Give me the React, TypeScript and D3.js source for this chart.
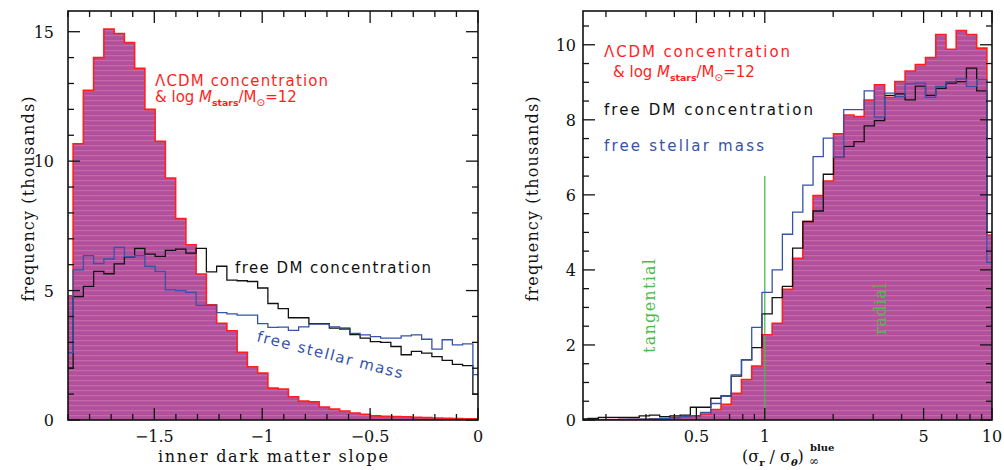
import * as d3 from 'd3';

// ---- left panel: inner dark matter slope, 41 bins of 0.0475 centred from -1.9 ----
const slopeBinStart = -1.9;
const slopeBinWidth = 0.0475;
const slopeLcdm = [4.8, 10.67, 12.74, 14.0, 15.1, 14.93, 14.58, 13.59, 12.0, 10.77, 9.35, 7.78, 6.77, 5.64, 4.45, 3.74, 3.45, 2.62, 2.06, 1.81, 1.23, 1.2, 0.9, 0.73, 0.7, 0.5, 0.42, 0.35, 0.27, 0.22, 0.16, 0.14, 0.13, 0.12, 0.1, 0.09, 0.08, 0.07, 0.06, 0.05, 0.05];
const slopeFreeDM = [2.0, 4.77, 5.16, 5.74, 5.65, 6.03, 6.3, 6.63, 6.41, 6.32, 6.55, 6.6, 6.45, 6.63, 5.72, 5.94, 5.4, 5.38, 5.35, 5.1, 4.5, 4.3, 3.95, 3.95, 3.72, 3.72, 3.55, 3.55, 3.3, 3.16, 3.03, 3.0, 2.84, 2.52, 2.65, 2.58, 2.45, 2.3, 2.15, 2.1, 1.0];
const slopeFreeStars = [2.6, 5.8, 6.35, 6.04, 6.22, 6.67, 6.32, 6.35, 5.94, 5.74, 5.03, 5.0, 4.93, 4.43, 4.43, 4.15, 4.1, 4.05, 4.05, 3.72, 3.58, 3.59, 3.46, 3.6, 3.7, 3.7, 3.6, 3.5, 3.35, 3.29, 3.22, 3.16, 3.16, 3.25, 3.29, 3.12, 2.74, 3.1, 2.9, 2.94, 1.75];
const slopeTickLabels = ['−1.5', '−1', '−0.5', '0'];
const slopeTickValues = [-1.5, -1, -0.5, 0];
const slopeFreqLabels = ['0', '5', '10', '15'];

// ---- right panel: log10 (sigma_r/sigma_theta), 41 bins of 0.045 dex centred from -0.8 ----
const anisoBinStart = -0.8;
const anisoBinWidth = 0.045;
const anisoLcdm = [0.01, 0.01, 0.01, 0.01, 0.01, 0.02, 0.02, 0.03, 0.04, 0.07, 0.09, 0.11, 0.16, 0.28, 0.42, 0.71, 1.08, 1.44, 2.27, 2.58, 3.48, 4.31, 5.29, 5.98, 6.37, 7.63, 8.13, 8.09, 8.53, 8.93, 8.6, 9.02, 9.3, 9.47, 9.66, 10.27, 9.88, 10.38, 10.27, 9.91, 4.93];
const anisoFreeDM = [0.03, 0.04, 0.07, 0.07, 0.07, 0.07, 0.11, 0.13, 0.09, 0.11, 0.13, 0.34, 0.34, 0.58, 0.64, 1.17, 1.6, 1.93, 2.83, 3.26, 3.56, 4.58, 5.29, 5.57, 6.55, 7.0, 7.29, 7.42, 7.84, 7.98, 8.65, 8.69, 8.53, 8.9, 8.65, 8.84, 8.98, 9.02, 9.38, 8.77, 5.0];
const anisoFreeStars = [0.01, 0.01, 0.01, 0.01, 0.02, 0.02, 0.02, 0.03, 0.04, 0.06, 0.09, 0.11, 0.2, 0.44, 0.64, 1.2, 1.6, 2.47, 3.4, 4.0, 4.95, 5.54, 6.26, 7.02, 7.51, 7.0, 8.27, 8.27, 8.77, 8.07, 8.71, 8.62, 8.96, 8.98, 8.6, 8.89, 9.02, 9.09, 8.89, 9.07, 4.2];
const anisoTickLabels = ['0.5', '1', '5', '10'];
const anisoTickValues = [0.5, 1, 5, 10];
const anisoFreqLabels = ['0', '2', '4', '6', '8', '10'];
const isotropicLine = { x: 1, top: 6.5 };

const RED = '#ff1f1f';
const BLACK = '#111';
const BLUE = '#3553a8';
const GREEN = '#4cbb4c';
const serif = "'DejaVu Serif', serif";
const sans = "'DejaVu Sans', sans-serif";

type Pt = [number, number];

// outline of a step histogram, closed down to zero at both ends
function stepPts(values: number[], lo: (i: number) => number, hi: (i: number) => number): Pt[] {
  const pts: Pt[] = [[lo(0), 0]];
  values.forEach((v, i) => {
    pts.push([lo(i), v], [hi(i), v]);
  });
  pts.push([hi(values.length - 1), 0]);
  return pts;
}

const Ticks = ({ x, y, xMinor, xMajor, yMinor, yMajor }: any) => {
  const [x0, x1] = x.range();
  const [y0, y1] = y.range(); // y0 bottom, y1 top
  const lines: any[] = [];
  const big = 12, small = 6;
  xMinor.forEach((v: number, i: number) => {
    const len = xMajor.includes(v) ? big : small;
    const px = x(v);
    lines.push(<line key={'xb' + i} x1={px} x2={px} y1={y0} y2={y0 - len} />);
    lines.push(<line key={'xt' + i} x1={px} x2={px} y1={y1} y2={y1 + len} />);
  });
  yMinor.forEach((v: number, i: number) => {
    const len = yMajor.includes(v) ? big : small;
    const py = y(v);
    lines.push(<line key={'yl' + i} x1={x0} x2={x0 + len} y1={py} y2={py} />);
    lines.push(<line key={'yr' + i} x1={x1} x2={x1 - len} y1={py} y2={py} />);
  });
  return (
    <g stroke="#111" strokeWidth={1.3}>
      {lines}
      <rect x={x0} y={y1} width={x1 - x0} height={y0 - y1} fill="none" strokeWidth={1.6} />
    </g>
  );
};

const Hist = ({ id, x, y, lcdm, freeDM, freeStars, lo, hi, children }: any) => {
  const line = d3.line<Pt>().x(d => x(d[0])).y(d => y(d[1]));
  const area = d3.area<Pt>().x(d => x(d[0])).y0(y(0)).y1(d => y(d[1]));
  const [x0, x1] = x.range();
  const [yb, yt] = y.range();
  return (
    <g>
      <clipPath id={id}>
        <rect x={x0} y={yt} width={x1 - x0} height={yb - yt} />
      </clipPath>
      <g clipPath={`url(#${id})`}>
        <path d={area(stepPts(lcdm, lo, hi)) || ''} fill="url(#stripes)" />
        {children}
        <path d={line(stepPts(lcdm, lo, hi)) || ''} fill="none" stroke={RED} strokeWidth={1.6} />
        <path d={line(stepPts(freeDM, lo, hi)) || ''} fill="none" stroke={BLACK} strokeWidth={1.3} />
        <path d={line(stepPts(freeStars, lo, hi)) || ''} fill="none" stroke={BLUE} strokeWidth={1.3} />
      </g>
    </g>
  );
};

const MassLine = ({ x, y, size }: any) => (
  <text x={x} y={y} fill={RED} fontFamily={sans} fontSize={size}>
    {'& log '}
    <tspan fontStyle="italic">M</tspan>
    <tspan dy={4} fontSize={size * 0.62} fontWeight="bold">stars</tspan>
    <tspan dy={-4}>/M</tspan>
    <tspan dy={4} fontSize={size * 0.7}>⊙</tspan>
    <tspan dy={-4}>=12</tspan>
  </text>
);

export default function App() {
  // left panel scales
  const xL = d3.scaleLinear().domain([-1.9, 0]).range([68, 478]);
  const yL = d3.scaleLinear().domain([0, 15.8]).range([420, 11]);
  // right panel scales
  const xR = d3.scaleLog().domain([Math.pow(10, -0.8), 10]).range([583, 992]);
  const yR = d3.scaleLinear().domain([0, 10.9]).range([420, 11]);

  const loL = (i: number) => slopeBinStart + (i - 0.5) * slopeBinWidth;
  const hiL = (i: number) => slopeBinStart + (i + 0.5) * slopeBinWidth;
  const loR = (i: number) => Math.pow(10, anisoBinStart + (i - 0.5) * anisoBinWidth);
  const hiR = (i: number) => Math.pow(10, anisoBinStart + (i + 0.5) * anisoBinWidth);

  const xLMinor = d3.range(-19, 1).map(i => i / 10);
  const yLMinor = d3.range(0, 16);
  const xRMinor = [0.2, 0.3, 0.4, 0.5, 0.6, 0.7, 0.8, 0.9, 1, 2, 3, 4, 5, 6, 7, 8, 9, 10];
  const yRMinor = d3.range(0, 22).map(i => i / 2);

  return (
    <svg width={1004} height={470} style={{ position: 'absolute', left: 0, top: 0, background: '#fff' }}>
      <defs>
        <pattern id="stripes" width={8} height={5} patternUnits="userSpaceOnUse">
          <rect width={8} height={5} fill="#b3509b" />
          <rect width={8} height={1.2} fill="#c46aaa" />
        </pattern>
      </defs>

      {/* ---------- left panel ---------- */}
      <Hist id="clipL" x={xL} y={yL} lcdm={slopeLcdm} freeDM={slopeFreeDM} freeStars={slopeFreeStars} lo={loL} hi={hiL} />
      <Ticks x={xL} y={yL} xMinor={xLMinor} xMajor={[-1.5, -1, -0.5, 0]} yMinor={yLMinor} yMajor={[0, 5, 10, 15]} />
      <g fontFamily={serif} fontSize={16} fill="#111">
        {slopeTickValues.map((v, i) => (
          <text key={i} x={xL(v)} y={442} textAnchor="middle">{slopeTickLabels[i]}</text>
        ))}
        {slopeFreqLabels.map(s => (
          <text key={s} x={54} y={yL(+s) + 6} textAnchor="end">{s}</text>
        ))}
        <text x={273} y={462} textAnchor="middle" textLength={230} lengthAdjust="spacing">inner dark matter slope</text>
        <text transform="translate(34,199) rotate(-90)" textAnchor="middle" textLength={205} lengthAdjust="spacing">frequency (thousands)</text>
      </g>
      <text x={155} y={86} fill={RED} fontFamily={sans} fontSize={15} textLength={173} lengthAdjust="spacing">ΛCDM concentration</text>
      <MassLine x={155} y={102} size={15} />
      <text x={235} y={273} fill={BLACK} fontFamily={sans} fontSize={15} textLength={196} lengthAdjust="spacing">free DM concentration</text>
      <text transform="translate(256,341) rotate(14.5)" fill={BLUE} fontFamily={sans} fontSize={15} textLength={150} lengthAdjust="spacing">free stellar mass</text>

      {/* ---------- right panel ---------- */}
      <Hist id="clipR" x={xR} y={yR} lcdm={anisoLcdm} freeDM={anisoFreeDM} freeStars={anisoFreeStars} lo={loR} hi={hiR}>
        <line x1={xR(isotropicLine.x)} x2={xR(isotropicLine.x)} y1={yR(0)} y2={yR(isotropicLine.top)} stroke={GREEN} strokeWidth={1.3} />
      </Hist>
      <Ticks x={xR} y={yR} xMinor={xRMinor} xMajor={[0.5, 1, 5, 10]} yMinor={yRMinor} yMajor={[0, 2, 4, 6, 8, 10]} />
      <g fontFamily={serif} fontSize={16} fill="#111">
        {anisoTickValues.map((v, i) => (
          <text key={i} x={xR(v)} y={442} textAnchor="middle">{anisoTickLabels[i]}</text>
        ))}
        {anisoFreqLabels.map(s => (
          <text key={s} x={576} y={yR(+s) + 6} textAnchor="end">{s}</text>
        ))}
        <text transform="translate(538,199) rotate(-90)" textAnchor="middle" textLength={205} lengthAdjust="spacing">frequency (thousands)</text>
        <text x={742} y={462}>
          (σ<tspan dy={4} fontSize={10} fontWeight="bold">r</tspan>
          <tspan dy={-4}>{' / σ'}</tspan>
          <tspan dy={4} fontSize={10} fontWeight="bold" fontStyle="italic">θ</tspan>
          <tspan dy={-4}>)</tspan>
        </text>
        <text x={809} y={465} fontSize={12}>∞</text>
        <text x={810} y={451} fontSize={10} fontWeight="bold">blue</text>
      </g>
      <text x={604} y={57} fill={RED} fontFamily={sans} fontSize={15} textLength={186} lengthAdjust="spacing">ΛCDM concentration</text>
      <MassLine x={613} y={77} size={15} />
      <text x={604} y={115} fill={BLACK} fontFamily={sans} fontSize={15} textLength={209} lengthAdjust="spacing">free DM concentration</text>
      <text x={604} y={151} fill={BLUE} fontFamily={sans} fontSize={15} textLength={160} lengthAdjust="spacing">free stellar mass</text>
      <text transform="translate(655,306) rotate(-90)" fill={GREEN} fontFamily={serif} fontSize={16} textAnchor="middle" textLength={94} lengthAdjust="spacing">tangential</text>
      <text transform="translate(886,309) rotate(-90)" fill={GREEN} fontFamily={serif} fontSize={16} textAnchor="middle" textLength={52} lengthAdjust="spacing">radial</text>
    </svg>
  );
}
